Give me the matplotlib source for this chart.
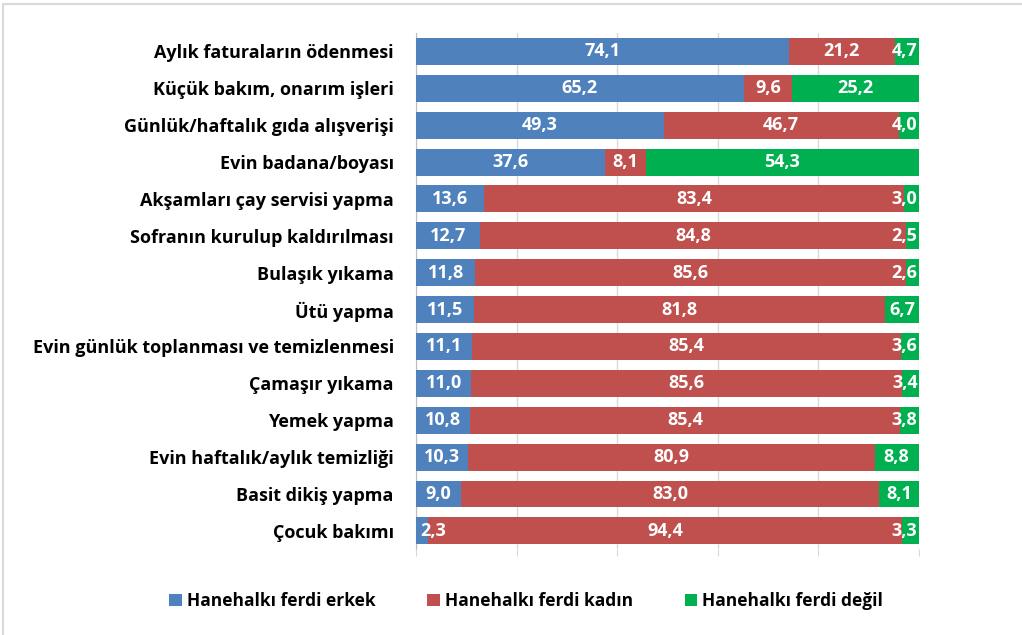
import numpy as np
import matplotlib.pyplot as plt
from matplotlib.patches import Rectangle

# veriler
gorevler = ['Aylık faturaların ödenmesi', 'Küçük bakım, onarım işleri',
            'Günlük/haftalık gıda alışverişi', 'Evin badana/boyası',
            'Akşamları çay servisi yapma', 'Sofranın kurulup kaldırılması',
            'Bulaşık yıkama', 'Ütü yapma',
            'Evin günlük toplanması ve temizlenmesi', 'Çamaşır yıkama',
            'Yemek yapma', 'Evin haftalık/aylık temizliği',
            'Basit dikiş yapma', 'Çocuk bakımı']
erkek = [74.1, 65.2, 49.3, 37.6, 13.6, 12.7, 11.8, 11.5, 11.1, 11.0, 10.8, 10.3, 9.0, 2.3]
kadin = [21.2, 9.6, 46.7, 8.1, 83.4, 84.8, 85.6, 81.8, 85.4, 85.6, 85.4, 80.9, 83.0, 94.4]
degil = [4.7, 25.2, 4.0, 54.3, 3.0, 2.5, 2.6, 6.7, 3.6, 3.4, 3.8, 8.8, 8.1, 3.3]
seri_adlari = ['Hanehalkı ferdi erkek', 'Hanehalkı ferdi kadın', 'Hanehalkı ferdi değil']
renkler = ['#4F81BD', '#C0504D', '#00B050']

plt.rcParams['font.family'] = ['Open Sans', 'DejaVu Sans']

fig = plt.figure(figsize=(10.22, 6.35), dpi=100)
ax = fig.add_axes([0.407, 0.135, 0.492, 0.813])

_y = np.arange(len(gorevler))
sol = np.zeros(len(gorevler))
for seri, ad, renk in zip([erkek, kadin, degil], seri_adlari, renkler):
    ax.barh(_y, seri, left=sol, height=0.73, color=renk, label=ad, zorder=3)
    # etiketler: dar dilimlerde çubuğun içinde kalsın
    for yi, (l, v) in enumerate(zip(sol, seri)):
        xc = min(max(l + v / 2, 3.4), 97.2)
        ax.text(xc, yi, f'{v:.1f}'.replace('.', ','), ha='center', va='center',
                color='white', fontweight='bold', fontsize=13, zorder=4)
    sol += np.array(seri)

ax.set_xlim(0, 100)
ax.set_ylim(len(gorevler) - 0.5, -0.5)
ax.set_yticks(_y)
ax.set_yticklabels(gorevler, fontweight='bold', fontsize=13)
ax.set_xticks(range(0, 101, 20))
ax.set_xticklabels([])
ax.tick_params(axis='y', length=0, pad=16)
ax.tick_params(axis='x', length=5, color='#D9D9D9', direction='out')

# grid
ax.grid(axis='x', color='#D9D9D9', linewidth=1, zorder=0)
for s in ['top', 'right', 'bottom']:
    ax.spines[s].set_visible(False)
ax.spines['left'].set_color('#BFBFBF')

fig.legend(loc='center', bbox_to_anchor=(0.515, 0.054), ncol=3, frameon=False,
           prop={'weight': 'bold', 'size': 12.5}, handlelength=0.7, handleheight=0.7,
           handletextpad=0.3, columnspacing=3.0)

# dış çerçeve
fig.patches.append(Rectangle((0.003, -0.01), 1.2, 1.003, transform=fig.transFigure,
                             fill=False, edgecolor='#D9D9D9', linewidth=1.5))

plt.savefig('out.png')
